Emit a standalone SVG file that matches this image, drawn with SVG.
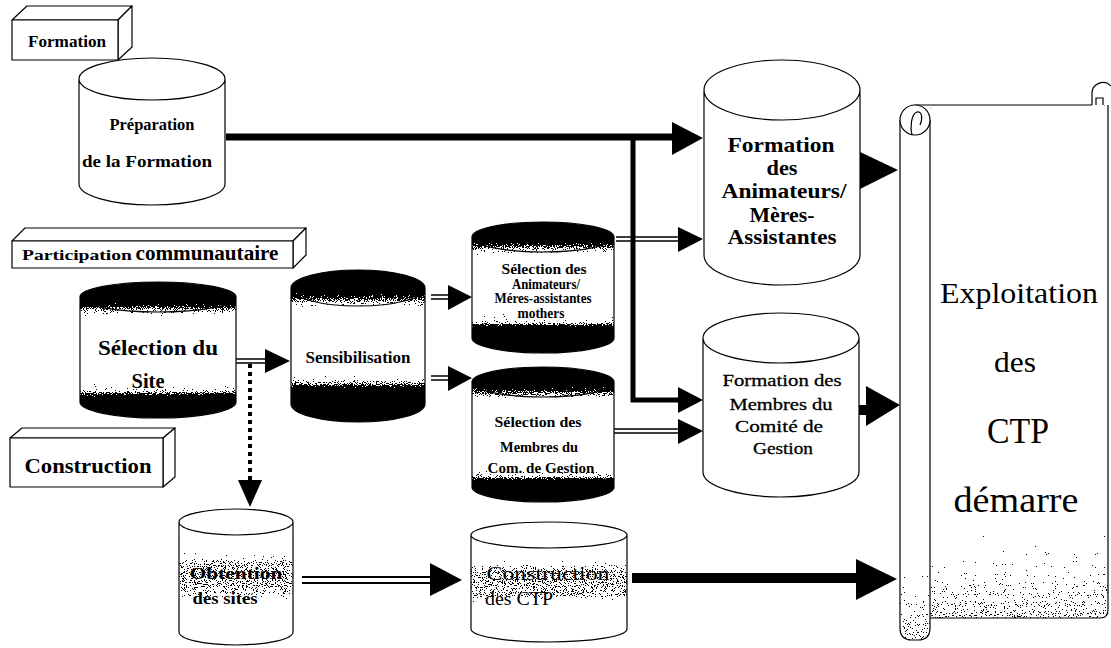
<svg xmlns="http://www.w3.org/2000/svg" width="1111" height="648" viewBox="0 0 1111 648">
<style>
text{font-family:"Liberation Serif","Times New Roman",serif;fill:#000;text-anchor:middle}
.b{font-weight:bold}
.sb{stroke:#000;stroke-width:0.3;stroke-linejoin:round}
.ol{fill:none;stroke:#000;stroke-width:1.2}
.box{fill:#fff;stroke:#000;stroke-width:1.2;stroke-linejoin:round}
.white{fill:#fff}
.dith{filter:url(#dither)}
.thick{stroke:#000;stroke-width:7;fill:none}
.mid{stroke:#000;stroke-width:5;fill:none}
.dbl{stroke:#000;stroke-width:1.4;fill:none}
.dot{stroke:#000;stroke-width:4;stroke-dasharray:4 4;fill:none}
.head{fill:#000}
</style>
<defs>
<linearGradient id="gSite" x1="0" y1="0" x2="0" y2="1">
<stop offset="0" stop-color="#000"/><stop offset="0.14" stop-color="#000"/><stop offset="0.2" stop-color="#888"/><stop offset="0.27" stop-color="#fff"/><stop offset="0.68" stop-color="#fff"/><stop offset="0.75" stop-color="#ddd"/><stop offset="0.81" stop-color="#999"/><stop offset="0.85" stop-color="#000"/><stop offset="1" stop-color="#000"/>
</linearGradient>
<linearGradient id="gSens" x1="0" y1="0" x2="0" y2="1">
<stop offset="0" stop-color="#000"/><stop offset="0.13" stop-color="#000"/><stop offset="0.2" stop-color="#888"/><stop offset="0.27" stop-color="#fff"/><stop offset="0.64" stop-color="#fff"/><stop offset="0.7" stop-color="#ddd"/><stop offset="0.75" stop-color="#888"/><stop offset="0.79" stop-color="#000"/><stop offset="1" stop-color="#000"/>
</linearGradient>
<linearGradient id="gAnim" x1="0" y1="0" x2="0" y2="1">
<stop offset="0" stop-color="#000"/><stop offset="0.13" stop-color="#000"/><stop offset="0.2" stop-color="#888"/><stop offset="0.27" stop-color="#fff"/><stop offset="0.63" stop-color="#fff"/><stop offset="0.71" stop-color="#ddd"/><stop offset="0.77" stop-color="#aaa"/><stop offset="0.81" stop-color="#000"/><stop offset="1" stop-color="#000"/>
</linearGradient>
<linearGradient id="gMemb" x1="0" y1="0" x2="0" y2="1">
<stop offset="0" stop-color="#000"/><stop offset="0.12" stop-color="#000"/><stop offset="0.2" stop-color="#888"/><stop offset="0.26" stop-color="#fff"/><stop offset="0.68" stop-color="#fff"/><stop offset="0.76" stop-color="#ddd"/><stop offset="0.81" stop-color="#aaa"/><stop offset="0.85" stop-color="#000"/><stop offset="1" stop-color="#000"/>
</linearGradient>
<linearGradient id="gLight" x1="0" y1="0" x2="0" y2="1">
<stop offset="0" stop-color="#fff"/><stop offset="0.28" stop-color="#fff"/><stop offset="0.4" stop-color="#999"/><stop offset="0.6" stop-color="#999"/><stop offset="0.72" stop-color="#fff"/><stop offset="1" stop-color="#fff"/>
</linearGradient>
<linearGradient id="gPage" x1="0" y1="0" x2="0" y2="1">
<stop offset="0" stop-color="#fff"/><stop offset="0.76" stop-color="#fff"/><stop offset="1" stop-color="#a4a4a4"/>
</linearGradient>
<filter id="dither" x="0" y="0" width="1" height="1" color-interpolation-filters="sRGB">
<feTurbulence type="fractalNoise" baseFrequency="0.9" numOctaves="2" seed="7" result="n"/>
<feColorMatrix in="n" type="matrix" values="1 0 0 0 0 1 0 0 0 0 1 0 0 0 0 0 0 0 0 1" result="g"/>
<feComposite in="SourceGraphic" in2="g" operator="arithmetic" k1="0" k2="1" k3="1.1" k4="-0.55" result="s"/>
<feComponentTransfer in="s" result="t"><feFuncR type="discrete" tableValues="0 1"/><feFuncG type="discrete" tableValues="0 1"/><feFuncB type="discrete" tableValues="0 1"/></feComponentTransfer>
<feComposite in="t" in2="SourceAlpha" operator="in"/>
</filter>
</defs>

<!-- Scroll -->
<g id="scroll">
<rect class="dith" x="930" y="105" width="178" height="513" rx="6" fill="url(#gPage)"/>
<path class="ol" d="M915,105 H1092 M1108,105 V610 Q1108,618 1100,618 H930"/>
<path class="ol" d="M1092,105 V94 A11,11 0 0 1 1111,86 M1096,105 V98 H1103 V105"/>
<path class="dith" d="M900,120 V628 Q900,640 912,640 H918 Q930,640 930,628 V120 Z" fill="url(#gPage)"/>
<path class="ol" d="M900,120 V628 Q900,640 912,640 H918 Q930,640 930,628 V120"/>
<circle cx="915" cy="120" r="15" fill="#fff" stroke="#000" stroke-width="1.2"/>
<path class="ol" d="M912,135 C910,128 911,114 917,112 C922,111 923,118 920,125"/>
<text x="1019" y="303" font-size="30" textLength="158" lengthAdjust="spacingAndGlyphs">Exploitation</text>
<text x="1015" y="372" font-size="30" textLength="42" lengthAdjust="spacingAndGlyphs">des</text>
<text x="1018" y="443" font-size="36" textLength="62" lengthAdjust="spacingAndGlyphs">CTP</text>
<text x="1016" y="512" font-size="36" textLength="125" lengthAdjust="spacingAndGlyphs">démarre</text>
</g>

<!-- Category boxes -->
<g id="box-formation">
<polygon class="box" points="12,20 27,6 132,6 118,20"/>
<polygon class="box" points="118,20 132,6 132,47 118,60"/>
<rect class="box" x="12" y="20" width="106" height="40"/>
<text class="b" x="67" y="47" font-size="16" textLength="78" lengthAdjust="spacingAndGlyphs">Formation</text>
</g>
<g id="box-participation">
<polygon class="box" points="12,241 25,228 306,228 293,241"/>
<polygon class="box" points="293,241 306,228 306,255 293,268"/>
<rect class="box" x="12" y="241" width="281" height="27"/>
<text class="b" x="77" y="260" font-size="15" textLength="110" lengthAdjust="spacingAndGlyphs">Participation</text>
<text class="b" x="207" y="260" font-size="20" textLength="143" lengthAdjust="spacingAndGlyphs">communautaire</text>
</g>
<g id="box-construction">
<polygon class="box" points="10,438 22,428 175,428 163,438"/>
<polygon class="box" points="163,438 175,428 175,477 163,487"/>
<rect class="box" x="10" y="438" width="153" height="49"/>
<text class="b" x="88" y="473" font-size="21" textLength="127" lengthAdjust="spacingAndGlyphs">Construction</text>
</g>

<!-- Connectors -->
<g id="connectors">
<path class="thick" d="M226,137 H674"/>
<polygon class="head" points="672,122 703,138 672,155"/>
<path class="mid" d="M633,137 V400 H680"/>
<polygon class="head" points="678,387 703,400 678,413"/>
<path class="dbl" d="M222,359 H266 M222,363 H266"/>
<polygon class="head" points="265,349 290,361 265,373"/>
<path class="dot" d="M250,364 V482"/>
<polygon class="head" points="238,480 262,480 250,507"/>
<path class="dbl" d="M431,295 H450 M431,299 H450"/>
<polygon class="head" points="448,285 472,297 448,310"/>
<path class="dbl" d="M431,376 H450 M431,380 H450"/>
<polygon class="head" points="448,366 472,378 448,391"/>
<path class="dbl" d="M616,237 H680 M616,241 H680"/>
<polygon class="head" points="678,227 703,239 678,252"/>
<path class="dbl" d="M612,429 H680 M612,433 H680"/>
<polygon class="head" points="678,419 703,431 678,444"/>
<path stroke="#000" stroke-width="2" fill="none" d="M302,577 H432 M302,583 H432"/>
<polygon class="head" points="430,563 462,580 430,596"/>
<path stroke="#000" stroke-width="10" fill="none" d="M632,578 H858"/>
<polygon class="head" points="856,559 897,579 856,600"/>
<polygon class="head" points="858,151 898,170 858,190"/>
<path stroke="#000" stroke-width="10" fill="none" d="M859,410 H870"/>
<polygon class="head" points="866,386 900,405 866,426"/>
</g>

<!-- Cylinders -->
<g id="preparation">
<path class="white" d="M79,79 A73,21 0 0 1 225,79 V184 A73,21 0 0 1 79,184 Z"/>
<path class="ol" d="M79,79 A73,21 0 0 1 225,79 V184 A73,21 0 0 1 79,184 Z M79,79 A73,21 0 0 0 225,79"/>
<text class="b" x="152" y="130" font-size="17" textLength="85" lengthAdjust="spacingAndGlyphs">Préparation</text>
<text class="b" x="147" y="167" font-size="17" textLength="130" lengthAdjust="spacingAndGlyphs">de la Formation</text>
</g>

<g id="selection-site">
<path class="dith" fill="url(#gSite)" d="M80,297 A78,15 0 0 1 236,297 V402 A78,16 0 0 1 80,402 Z"/>
<path class="ol" d="M80,297 A78,15 0 0 1 236,297 V402 A78,16 0 0 1 80,402 Z M80,297 A78,15 0 0 0 236,297"/>
<text class="b" x="158" y="355" font-size="22" textLength="120" lengthAdjust="spacingAndGlyphs">Sélection du</text>
<text class="b" x="148" y="388" font-size="22" textLength="33" lengthAdjust="spacingAndGlyphs">Site</text>
</g>

<g id="sensibilisation">
<path class="dith" fill="url(#gSens)" d="M291,288 A67,18 0 0 1 425,288 V404 A67,18 0 0 1 291,404 Z"/>
<path class="ol" d="M291,288 A67,18 0 0 1 425,288 V404 A67,18 0 0 1 291,404 Z M291,288 A67,18 0 0 0 425,288"/>
<text class="b" x="358" y="363" font-size="16" textLength="105" lengthAdjust="spacingAndGlyphs">Sensibilisation</text>
</g>

<g id="selection-animateurs">
<path class="dith" fill="url(#gAnim)" d="M472,237 A71,15 0 0 1 614,237 V338 A71,15 0 0 1 472,338 Z"/>
<path class="ol" d="M472,237 A71,15 0 0 1 614,237 V338 A71,15 0 0 1 472,338 Z M472,237 A71,15 0 0 0 614,237"/>
<text class="b" x="544" y="274" font-size="14" textLength="85" lengthAdjust="spacingAndGlyphs">Sélection des</text>
<text class="b" x="546" y="289" font-size="14" textLength="68" lengthAdjust="spacingAndGlyphs">Animateurs/</text>
<text class="b" x="543" y="303" font-size="14" textLength="97" lengthAdjust="spacingAndGlyphs">Méres-assistantes</text>
<text class="b" x="541" y="318" font-size="14" textLength="47" lengthAdjust="spacingAndGlyphs">mothers</text>
</g>

<g id="selection-membres">
<path class="dith" fill="url(#gMemb)" d="M472,382 A71,15 0 0 1 614,382 V487 A71,15 0 0 1 472,487 Z"/>
<path class="ol" d="M472,382 A71,15 0 0 1 614,382 V487 A71,15 0 0 1 472,487 Z M472,382 A71,15 0 0 0 614,382"/>
<text class="b" x="538" y="427" font-size="15" textLength="87" lengthAdjust="spacingAndGlyphs">Sélection des</text>
<text class="b" x="539" y="452" font-size="15" textLength="78" lengthAdjust="spacingAndGlyphs">Membres du</text>
<text class="b" x="541" y="473" font-size="15" textLength="107" lengthAdjust="spacingAndGlyphs">Com. de Gestion</text>
</g>

<g id="formation-animateurs">
<path class="white" d="M704,90 A78,30 0 0 1 860,90 V255 A78,30 0 0 1 704,255 Z"/>
<path class="ol" d="M704,90 A78,30 0 0 1 860,90 V255 A78,30 0 0 1 704,255 Z M704,90 A78,30 0 0 0 860,90"/>
<text class="b" x="781" y="152" font-size="21" textLength="107" lengthAdjust="spacingAndGlyphs">Formation</text>
<text class="b" x="782" y="175" font-size="21" textLength="31" lengthAdjust="spacingAndGlyphs">des</text>
<text class="b" x="784" y="198" font-size="21" textLength="125" lengthAdjust="spacingAndGlyphs">Animateurs/</text>
<text class="b" x="782" y="222" font-size="21" textLength="65" lengthAdjust="spacingAndGlyphs">Mères-</text>
<text class="b" x="782" y="244" font-size="21" textLength="109" lengthAdjust="spacingAndGlyphs">Assistantes</text>
</g>

<g id="formation-membres">
<path class="white" d="M703,338 A78,25 0 0 1 859,338 V472 A78,25 0 0 1 703,472 Z"/>
<path class="ol" d="M703,338 A78,25 0 0 1 859,338 V472 A78,25 0 0 1 703,472 Z M703,338 A78,25 0 0 0 859,338"/>
<text class="sb" x="782" y="386" font-size="17" textLength="119" lengthAdjust="spacingAndGlyphs">Formation des</text>
<text class="sb" x="781" y="410" font-size="17" textLength="103" lengthAdjust="spacingAndGlyphs">Membres du</text>
<text class="sb" x="779" y="432" font-size="17" textLength="88" lengthAdjust="spacingAndGlyphs">Comité de</text>
<text class="sb" x="783" y="454" font-size="17" textLength="60" lengthAdjust="spacingAndGlyphs">Gestion</text>
</g>

<g id="obtention">
<path class="dith" fill="url(#gLight)" d="M179,522 A57,13 0 0 1 293,522 V632 A57,13 0 0 1 179,632 Z"/>
<path class="ol" d="M179,522 A57,13 0 0 1 293,522 V632 A57,13 0 0 1 179,632 Z M179,522 A57,13 0 0 0 293,522"/>
<text class="b" x="236" y="579" font-size="17" textLength="93" lengthAdjust="spacingAndGlyphs">Obtention</text>
<text class="b" x="225" y="604" font-size="17" textLength="65" lengthAdjust="spacingAndGlyphs">des sites</text>
</g>

<g id="construction-ctp">
<path class="dith" fill="url(#gLight)" d="M471,535 A78,13 0 0 1 627,535 V629 A78,13 0 0 1 471,629 Z"/>
<path class="ol" d="M471,535 A78,13 0 0 1 627,535 V629 A78,13 0 0 1 471,629 Z M471,535 A78,13 0 0 0 627,535"/>
<text x="548" y="580" font-size="19" textLength="123" lengthAdjust="spacingAndGlyphs">Construction</text>
<text x="519" y="605" font-size="19" textLength="68" lengthAdjust="spacingAndGlyphs">des CTP</text>
</g>
</svg>
